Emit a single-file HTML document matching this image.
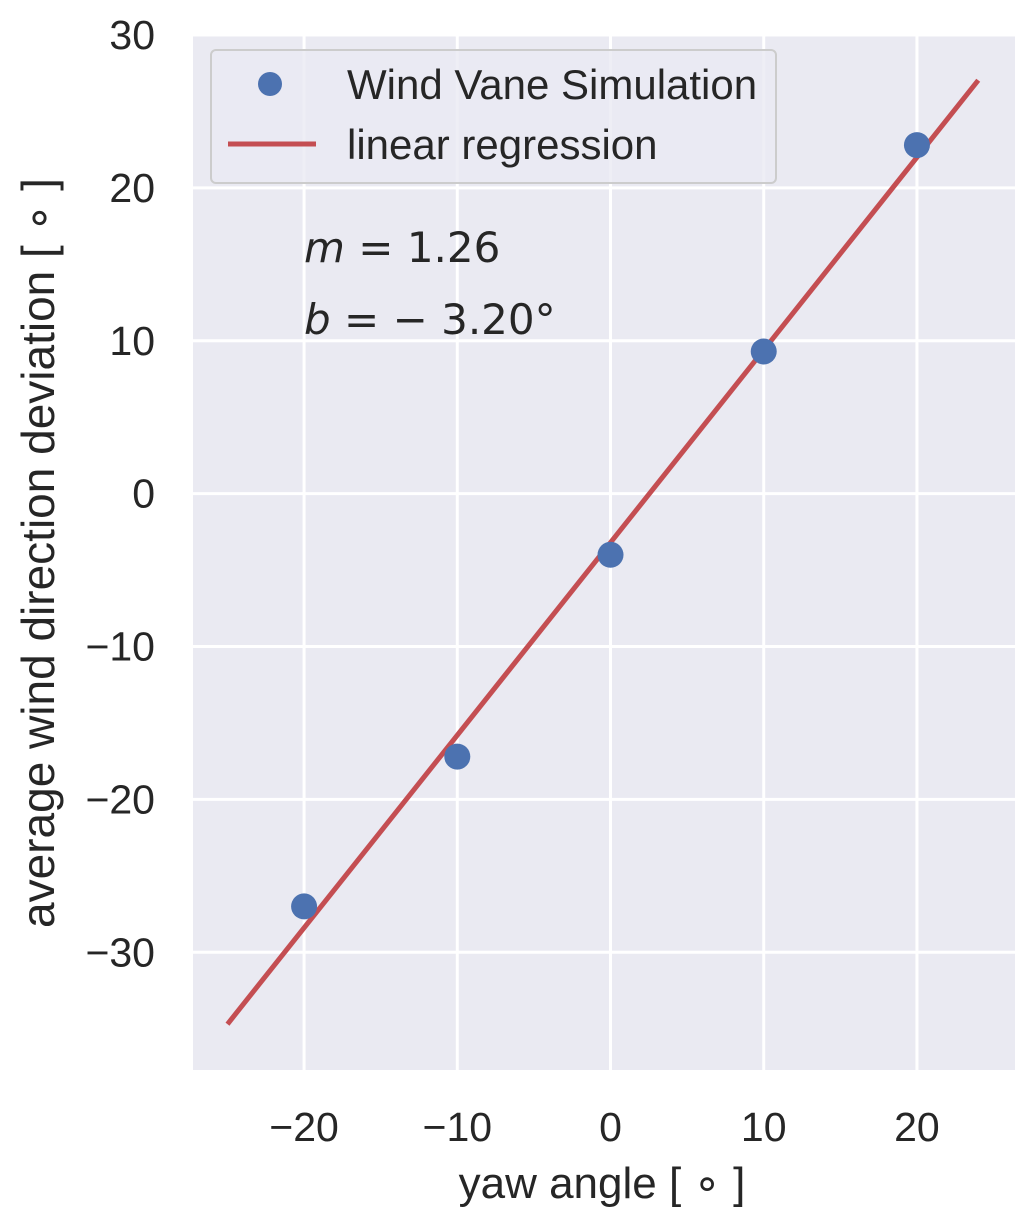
<!DOCTYPE html>
<html><head><meta charset="utf-8">
<style>
body{margin:0;background:#fff;}
svg text{font-family:"Liberation Sans","DejaVu Sans",sans-serif;fill:#262626;}
</style></head>
<body>
<svg id="chart" width="1033" height="1227" viewBox="0 0 1033 1227" xmlns="http://www.w3.org/2000/svg">
<rect x="193" y="35" width="822" height="1035" fill="#eaeaf2"/>
<g id="grid"></g>
<g id="marks"></g>
<g id="ticks"></g>
<text x="602" y="1198" font-size="44" text-anchor="middle">yaw angle [ ∘ ]</text>
<text transform="translate(54,553) rotate(-90)" font-size="46" text-anchor="middle">average wind direction deviation [ ∘ ]</text>
<text x="304" y="262" font-size="42" style="font-family:'DejaVu Sans',sans-serif"><tspan font-style="italic">m</tspan> = 1.26</text>
<text x="304" y="334" font-size="42" style="font-family:'DejaVu Sans',sans-serif"><tspan font-style="italic">b</tspan> = − 3.20°</text>
<g>
<rect x="211" y="50" width="565" height="133" rx="5" fill="#eaeaf2" stroke="#cccccc" stroke-width="2" fill-opacity="0.8"/>
<circle cx="270" cy="84" r="12" fill="#4c72b0"/>
<text x="347" y="99" font-size="42">Wind Vane Simulation</text>
<line x1="228" y1="144" x2="316" y2="144" stroke="#c44e52" stroke-width="5"/>
<text x="347" y="159" font-size="42">linear regression</text>
</g>
</svg>
<script>
const xs = [-20, -10, 0, 10, 20];
const ys = [-27, -17.2, -4, 9.3, 22.8];
const slope = 1.26;
const intercept = -3.2;
const lineRange = [-25, 24];
const xTicks = [-20, -10, 0, 10, 20];
const yTicks = [30, 20, 10, 0, -10, -20, -30];

const NS = "http://www.w3.org/2000/svg";
const X0 = 193, X1 = 1015, Y0 = 35, Y1 = 1070;
const xMin = -27.25, xMax = 26.4, yMin = -37.7, yMax = 30;
function sx(v){return X0 + (v - xMin) / (xMax - xMin) * (X1 - X0);}
function sy(v){return Y1 - (v - yMin) / (yMax - yMin) * (Y1 - Y0);}
function mk(tag, attrs, parent){const e=document.createElementNS(NS,tag);for(const k in attrs)e.setAttribute(k,attrs[k]);parent.appendChild(e);return e;}
const grid=document.getElementById('grid'), marks=document.getElementById('marks'), ticks=document.getElementById('ticks');
const fmt=v=>v<0?'−'+Math.abs(v):String(v);
xTicks.forEach(v=>{
  const l=mk('line',{x1:sx(v),x2:sx(v),y1:Y0,y2:Y1,stroke:'#fff','stroke-width':3},grid);
  
  
  const t=mk('text',{x:sx(v),y:1141,'font-size':41,'text-anchor':'middle'},ticks);
  t.textContent=fmt(v);
  
  
});
yTicks.forEach(v=>{
  const l=mk('line',{x1:X0,x2:X1,y1:sy(v),y2:sy(v),stroke:'#fff','stroke-width':3},grid);
  
  
  const t=mk('text',{x:155,y:sy(v)+14,'font-size':41,'text-anchor':'end'},ticks);
  t.textContent=fmt(v);
  
  
});
const reg=mk('line',{x1:sx(lineRange[0]),y1:sy(slope*lineRange[0]+intercept),x2:sx(lineRange[1]),y2:sy(slope*lineRange[1]+intercept),stroke:'#c44e52','stroke-width':5},marks);


xs.forEach((x,i)=>{
  const c=mk('circle',{cx:sx(x),cy:sy(ys[i]),r:13,fill:'#4c72b0'},marks);
  
  
});
</script>
</body></html>
